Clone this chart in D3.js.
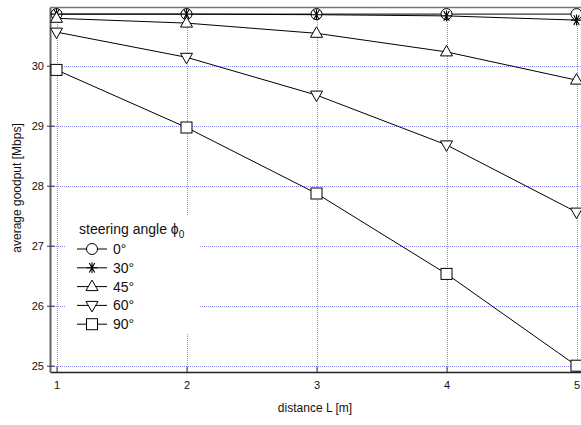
<!DOCTYPE html>
<html>
<head>
<meta charset="utf-8">
<script src="https://cdn.jsdelivr.net/npm/d3@7"></script>
<style>
  html, body { margin: 0; padding: 0; background: #fff; }
  svg { display: block; font-family: "Liberation Sans", Arial, sans-serif; }
</style>
</head>
<body>
<svg id="chart" width="581" height="425"></svg>
<script>
// Distance between transmitter and receiver [m]
const distances = [1, 2, 3, 4, 5];
const xTicks = [1, 2, 3, 4, 5];
const yTicks = [25, 26, 27, 28, 29, 30];

// Average goodput [Mbps] for each steering angle
const angle0  = [30.86, 30.86, 30.86, 30.86, 30.86];
const angle30 = [30.86, 30.86, 30.85, 30.83, 30.76];
const angle45 = [30.79, 30.71, 30.54, 30.23, 29.76];
const angle60 = [30.56, 30.14, 29.51, 28.68, 27.56];
const angle90 = [29.93, 28.97, 27.87, 26.53, 25.00];

const seriesLabels = ["0°", "30°", "45°", "60°", "90°"];
const seriesMarkers = ["circle", "star", "up", "down", "square"];
const seriesValues = [angle0, angle30, angle45, angle60, angle90];

const svg = d3.select("#chart");
const margin = { left: 50, top: 7.5, right: 583, bottom: 372 };

const x = d3.scaleLinear().domain([0.95, 5.05]).range([margin.left, margin.right]);
const y = d3.scaleLinear().domain([24.895, 30.97]).range([margin.bottom, margin.top]);

// dotted grid
const gridColor = "#8c8cf0";
const grid = svg.append("g").attr("shape-rendering", "crispEdges");
grid.selectAll("line.gx").data(xTicks).join("line")
  .attr("x1", d => Math.round(x(d)) + 0.5).attr("x2", d => Math.round(x(d)) + 0.5)
  .attr("y1", margin.top).attr("y2", margin.bottom)
  .attr("stroke", gridColor).attr("stroke-width", 1)
  .attr("stroke-dasharray", "1,1");
grid.selectAll("line.gy").data(yTicks).join("line")
  .attr("x1", margin.left).attr("x2", margin.right)
  .attr("y1", d => Math.round(y(d)) + 0.5).attr("y2", d => Math.round(y(d)) + 0.5)
  .attr("stroke", gridColor).attr("stroke-width", 1)
  .attr("stroke-dasharray", "1,1");

// top frame
svg.append("line").attr("x1", margin.left).attr("x2", margin.right)
  .attr("y1", margin.top).attr("y2", margin.top)
  .attr("stroke", "#777").attr("stroke-width", 1.5);

// axes
const xAxis = d3.axisBottom(x).tickValues(xTicks).tickFormat(d3.format("d")).tickSizeInner(-5).tickSizeOuter(0).tickPadding(9);
const gx = svg.append("g").attr("transform", `translate(0,${margin.bottom})`).call(xAxis);
gx.select(".domain").attr("stroke", "#222").attr("stroke-width", 1.5);
gx.selectAll(".tick line").attr("stroke", "#333");
gx.selectAll(".tick text").attr("font-size", 11).attr("fill", "#111")
  .attr("font-family", "Liberation Sans, Arial, sans-serif");

const yAxis = d3.axisLeft(y).tickValues(yTicks).tickFormat(d3.format("d")).tickSizeInner(3).tickSizeOuter(0).tickPadding(3);
const gy = svg.append("g").attr("transform", `translate(${margin.left},0)`).call(yAxis);
gy.select(".domain").attr("stroke", "#666").attr("stroke-width", 2);
gy.selectAll(".tick line").attr("stroke", "#333").attr("x2", 5).attr("x1", -3);
gy.selectAll(".tick text").attr("font-size", 11).attr("fill", "#111")
  .attr("font-family", "Liberation Sans, Arial, sans-serif");

// axis titles
svg.append("text").attr("x", 315).attr("y", 412).attr("text-anchor", "middle")
  .attr("font-size", 12).attr("fill", "#111").text("distance L [m]");
svg.append("text").attr("transform", "translate(21,188) rotate(-90)")
  .attr("text-anchor", "middle").attr("font-size", 12).attr("fill", "#111")
  .text("average goodput [Mbps]");

// marker drawing
function drawMarker(g, type, cx, cy) {
  const s = { fill: "#fff", stroke: "#000", "stroke-width": 1 };
  const apply = (el) => { Object.entries(s).forEach(([k, v]) => el.attr(k, v)); return el; };
  if (type === "circle") {
    apply(g.append("circle").attr("cx", cx).attr("cy", cy).attr("r", 5.5));
  } else if (type === "square") {
    apply(g.append("rect").attr("x", cx - 5.5).attr("y", cy - 5.5).attr("width", 11).attr("height", 11));
  } else if (type === "up") {
    apply(g.append("path").attr("d", `M${cx},${cy - 6.5}L${cx + 6},${cy + 4}L${cx - 6},${cy + 4}Z`));
  } else if (type === "down") {
    apply(g.append("path").attr("d", `M${cx},${cy + 6.5}L${cx + 6},${cy - 4}L${cx - 6},${cy - 4}Z`));
  } else if (type === "star") {
    const r = 5.5;
    let d = `M${cx - r},${cy}L${cx + r},${cy}`;
    [60, 120].forEach(a => {
      const rad = a * Math.PI / 180;
      d += `M${cx - r * Math.cos(rad)},${cy - r * Math.sin(rad)}L${cx + r * Math.cos(rad)},${cy + r * Math.sin(rad)}`;
    });
    d += `M${cx},${cy - r}L${cx},${cy + r}`;
    g.append("path").attr("d", d).attr("stroke", "#000").attr("stroke-width", 1.1).attr("fill", "none");
  }
}

// series lines, then markers on top
const line = d3.line().x((d, i) => x(distances[i])).y(d => y(d));
const seriesG = svg.append("g");
seriesValues.forEach((vals) => {
  seriesG.append("path").datum(vals).attr("d", line)
    .attr("fill", "none").attr("stroke", "#000").attr("stroke-width", 1);
});
seriesValues.forEach((vals, k) => {
  const g = seriesG.append("g");
  vals.forEach((v, i) => drawMarker(g, seriesMarkers[k], x(distances[i]), y(v)));
});

// legend
const legend = svg.append("g");
legend.append("rect").attr("x", 65).attr("y", 216).attr("width", 135).attr("height", 117)
  .attr("fill", "#fff");
const titleText = legend.append("text").attr("x", 79).attr("y", 234).attr("font-size", 14).attr("fill", "#111");
titleText.append("tspan").text("steering angle ");
titleText.append("tspan").text("ϕ");
titleText.append("tspan").attr("font-size", 10).attr("dy", 4).text("0");
seriesLabels.forEach((lab, k) => {
  const yy = 249 + k * 18.8;
  legend.append("line").attr("x1", 77).attr("x2", 107).attr("y1", yy).attr("y2", yy)
    .attr("stroke", "#000").attr("stroke-width", 1);
  drawMarker(legend.append("g"), seriesMarkers[k], 92, yy);
  legend.append("text").attr("x", 113).attr("y", yy + 5).attr("font-size", 14)
    .attr("fill", "#111").text(lab);
});
</script>
</body>
</html>
